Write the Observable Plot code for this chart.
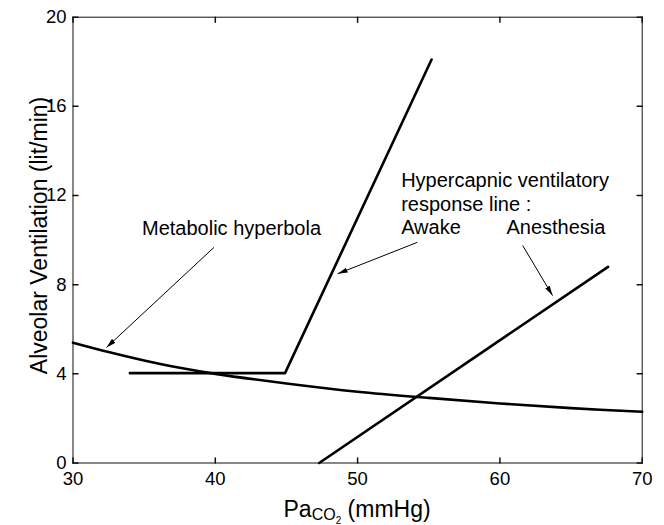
<!DOCTYPE html>
<html>
<head>
<meta charset="utf-8">
<script src="https://cdn.jsdelivr.net/npm/d3@7"></script>
<script src="https://cdn.jsdelivr.net/npm/@observablehq/plot@0.6"></script>
<style>
  html, body { margin: 0; padding: 0; background: white; }
  #chart { width: 664px; height: 525px; }
</style>
</head>
<body>
<div id="chart"></div>
<script>
// ---- data ----
const xTicks = [30, 40, 50, 60, 70];
const yTicks = [0, 4, 8, 12, 16, 20];

// Metabolic hyperbola
const hyperbolaX = [30, 32.5, 35, 37.5, 40, 45, 50, 55, 60, 65, 70];
const hyperbolaY = [5.4, 4.98, 4.6, 4.27, 4.0, 3.57, 3.2, 2.92, 2.67, 2.46, 2.3];

// Hypercapnic ventilatory response line: awake
const awakeX = [34, 44.9, 55.2];
const awakeY = [4.03, 4.03, 18.1];

// Hypercapnic ventilatory response line: anesthesia
const anesX = [47.3, 67.6];
const anesY = [0, 8.8];

// annotation arrows (from label to curve)
const arrowX1 = [39.9, 54.2, 61.6];
const arrowY1 = [9.67, 9.9, 9.76];
const arrowX2 = [32.35, 48.6, 63.7];
const arrowY2 = [5.18, 8.49, 7.51];

// annotation labels
const labelText = ["Metabolic hyperbola", "Hypercapnic ventilatory", "response line :", "Awake", "Anesthesia"];
const labelX = [34.85, 53.06, 53.06, 53.06, 60.46];
const labelY = [10.52, 12.66, 11.6, 10.55, 10.55];

const yLabel = "Alveolar Ventilation (lit/min)";
const xLabelMain = "Pa";
const xLabelSub = "CO";
const xLabelSubSub = "2";
const xLabelUnit = " (mmHg)";

// ---- tables built from the arrays ----
const hyperbola = hyperbolaX.map((x, i) => ({x, y: hyperbolaY[i]}));
const awake = awakeX.map((x, i) => ({x, y: awakeY[i]}));
const anes = anesX.map((x, i) => ({x, y: anesY[i]}));
const arrows = arrowX1.map((x1, i) => ({x1, y1: arrowY1[i], x2: arrowX2[i], y2: arrowY2[i]}));
const labels = labelText.map((t, i) => ({t, x: labelX[i], y: labelY[i]}));

const tickShape = {draw(context, l) { context.moveTo(0, 0); context.lineTo(0, -l); }};
const tickLen = 5;
const FONT = "'Liberation Sans', Arial, Helvetica, sans-serif";

// filled triangular arrow head marker
const filledHead = (color, context) => {
  const m = d3.create("svg:marker")
    .attr("viewBox", "-10 -3 10 6")
    .attr("refX", 0)
    .attr("refY", 0)
    .attr("markerWidth", 10)
    .attr("markerHeight", 6)
    .attr("markerUnits", "userSpaceOnUse")
    .attr("orient", "auto")
    .attr("fill", color)
    .attr("stroke", "none");
  m.append("path").attr("d", "M-10,-2.6L0,0L-10,2.6Z");
  return m.node();
};

let arrowMark;
try {
  arrowMark = Plot.link(arrows, {x1: "x1", y1: "y1", x2: "x2", y2: "y2", stroke: "black", strokeWidth: 1, markerEnd: filledHead});
} catch (e) {
  arrowMark = Plot.arrow(arrows, {x1: "x1", y1: "y1", x2: "x2", y2: "y2", stroke: "black", strokeWidth: 1, headLength: 10, headAngle: 40});
}

const plot = Plot.plot({
  width: 664,
  height: 525,
  marginLeft: 72.5,
  marginRight: 22.3,
  marginTop: 16.7,
  marginBottom: 62.5,
  style: {fontFamily: FONT, background: "white", color: "black"},
  x: {domain: [30, 70], axis: null},
  y: {domain: [0, 20], axis: null},
  marks: [
    Plot.frame({stroke: "#111", strokeWidth: 1}),
    // inward ticks on all four sides
    Plot.vector(xTicks, {x: d => d, frameAnchor: "bottom", length: tickLen, rotate: 0, anchor: "start", shape: tickShape, stroke: "#111"}),
    Plot.vector(xTicks, {x: d => d, frameAnchor: "top", length: tickLen, rotate: 180, anchor: "start", shape: tickShape, stroke: "#111"}),
    Plot.vector(yTicks, {y: d => d, frameAnchor: "left", length: tickLen, rotate: 90, anchor: "start", shape: tickShape, stroke: "#111"}),
    Plot.vector(yTicks, {y: d => d, frameAnchor: "right", length: tickLen, rotate: -90, anchor: "start", shape: tickShape, stroke: "#111"}),
    // tick labels
    Plot.text(xTicks, {x: d => d, frameAnchor: "bottom", dy: 21.5, text: d => String(d), fontSize: 18.5, textAnchor: "middle", fill: "black"}),
    Plot.text(yTicks, {y: d => d, frameAnchor: "left", dx: -6.5, dy: 0, text: d => String(d), fontSize: 18.5, textAnchor: "end", fill: "black"}),
    // curves
    Plot.line(hyperbola, {x: "x", y: "y", curve: "catmull-rom", stroke: "black", strokeWidth: 2.6}),
    Plot.line(awake, {x: "x", y: "y", stroke: "black", strokeWidth: 2.6}),
    Plot.line(anes, {x: "x", y: "y", stroke: "black", strokeWidth: 2.6}),
    // annotation arrows
    arrowMark,
    // annotation labels
    Plot.text(labels, {x: "x", y: "y", text: "t", textAnchor: "start", fontSize: 20, fill: "black"}),
    // y-axis label
    Plot.text([yLabel], {frameAnchor: "left", rotate: -90, dx: -33.5, dy: -4.6, fontSize: 23, textAnchor: "middle", fill: "black"})
  ]
});

document.getElementById("chart").appendChild(plot);

// x-axis label with subscripts, positioned through the x scale
const xs = plot.scale("x");
const svg = d3.select(plot);
const xl = svg.append("text")
  .attr("x", xs.apply(50))
  .attr("y", 516.5)
  .attr("text-anchor", "middle")
  .attr("font-family", FONT)
  .attr("font-size", 23)
  .attr("fill", "black");
xl.append("tspan").text(xLabelMain);
xl.append("tspan").attr("font-size", 16).attr("dy", 3.5).text(xLabelSub);
xl.append("tspan").attr("font-size", 10).attr("dy", 4).text(xLabelSubSub);
xl.append("tspan").attr("dy", -7.5).text(xLabelUnit);
</script>
</body>
</html>
